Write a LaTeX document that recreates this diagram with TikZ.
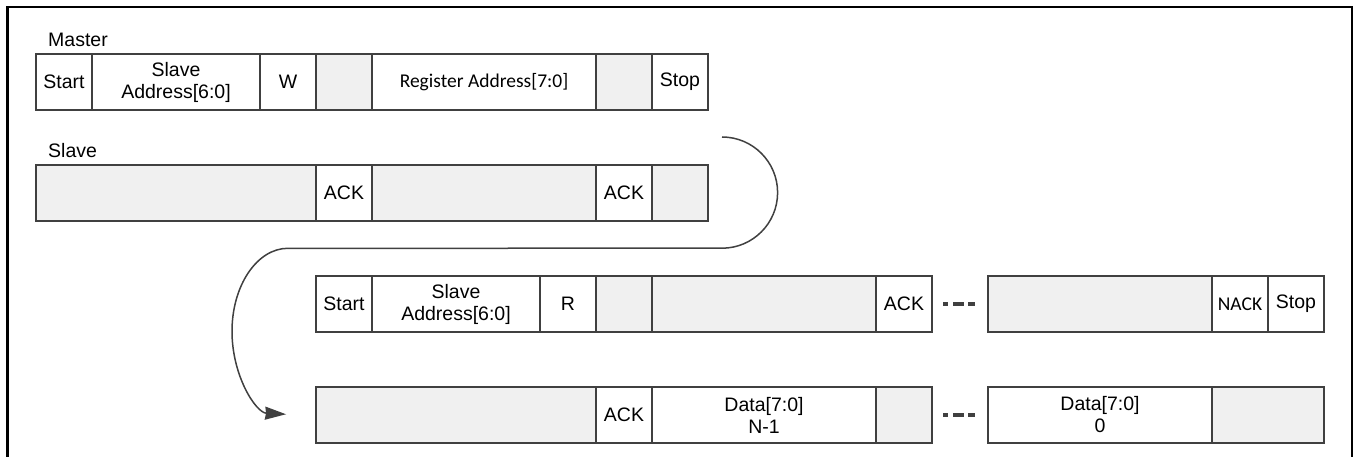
\documentclass[tikz,border=0pt]{standalone}
\usepackage{fontspec}
\setmainfont{Liberation Sans}
\newfontfamily\calfont{Carlito}
\usetikzlibrary{positioning,arrows.meta}
\definecolor{edgegray}{HTML}{404040}
\definecolor{padgray}{HTML}{F0F0F0}
\begin{document}
\begin{tikzpicture}[x=1pt, y=-1pt, >={Stealth[length=21pt,width=13pt,inset=1pt]},
    field/.style={draw=edgegray, line width=1.6pt, fill=white, minimum height=56pt,
        inner sep=0pt, outer sep=0pt, align=center, font=\fontsize{19.5}{22}\selectfont},
    pad/.style={field, fill=padgray},
    bits/.style={minimum width=#1*56pt},
    cal/.style={font=\calfont\fontsize{19.5}{22}\selectfont},
    rowlabel/.style={anchor=west, inner sep=0pt, font=\fontsize{19.5}{22}\selectfont},
    dotrun/.style={edgegray, line width=3.5pt, dash pattern=on 5pt off 5pt on 11pt off 4pt on 7pt off 10pt},
    turn/.style={edgegray, line width=1.5pt}]
    \useasboundingbox (0,0) rectangle (1359,457);

    \draw[line width=2.6pt] (7.5,457) -- (7.5,7) -- (1352,7) -- (1352,457);

    % master, write of the register address
    \node[rowlabel] (mlabel) at (48,40) {Master};
    \node[field, bits=1, anchor=west] (mstart) at (36,82) {Start};
    \node[field, bits=3, right=0pt of mstart] (maddr) {Slave\\Address[6:0]};
    \node[field, bits=1, right=0pt of maddr] (mw) {W};
    \node[pad, bits=1, right=0pt of mw] (mgap) {};
    \node[field, cal, bits=4, right=0pt of mgap] (mreg) {Register Address[7:0]};
    \node[pad, bits=1, right=0pt of mreg] (mgap2) {};
    \node[field, bits=1, right=0pt of mgap2] (mstop) {Stop};

    % slave answers
    \node[rowlabel] (slabel) at (48,151) {Slave};
    \node[pad, bits=5, anchor=west] (sidle) at (36,193) {};
    \node[field, bits=1, right=0pt of sidle] (sack) {ACK};
    \node[pad, bits=4, right=0pt of sack] (sidle2) {};
    \node[field, bits=1, right=0pt of sidle2] (sack2) {ACK};
    \node[pad, bits=1, right=0pt of sack2] (sidle3) {};

    % master, read
    \node[field, bits=1, anchor=west] (rstart) at (316,304) {Start};
    \node[field, bits=3, right=0pt of rstart] (raddr) {Slave\\Address[6:0]};
    \node[field, bits=1, right=0pt of raddr] (rr) {R};
    \node[pad, bits=1, right=0pt of rr] (rgap) {};
    \node[pad, bits=4, right=0pt of rgap] (ridle) {};
    \node[field, bits=1, right=0pt of ridle] (rack) {ACK};
    \node[pad, bits=4, right=56pt of rack] (ridle2) {};
    \node[field, cal, bits=1, right=0pt of ridle2] (rnack) {NACK};
    \node[field, bits=1, right=0pt of rnack] (rstop) {Stop};

    % slave, data out
    \node[pad, bits=5, anchor=west] (didle) at (316,415) {};
    \node[field, bits=1, right=0pt of didle] (dack) {ACK};
    \node[field, bits=4, right=0pt of dack] (dlast) {Data[7:0]\\N-1};
    \node[pad, bits=1, right=0pt of dlast] (dgap) {};
    \node[field, bits=4, right=56pt of dgap] (dfirst) {Data[7:0]\\0};
    \node[pad, bits=2, right=0pt of dfirst] (dgap2) {};

    \draw[dotrun] ([xshift=11pt]rack.east) -- ([xshift=-13pt]ridle2.west);
    \draw[dotrun] ([xshift=11pt]dgap.east) -- ([xshift=-13pt]dfirst.west);

    \coordinate (turnin) at (722,137);
    \coordinate (turnmid) at (288,248.3);
    \draw[turn, ->] (turnin) arc[start angle=90, end angle=-90, radius=55.6pt]
        -- (turnmid) arc[start angle=90, end angle=268, x radius=56pt, y radius=83pt];
\end{tikzpicture}
\end{document}
